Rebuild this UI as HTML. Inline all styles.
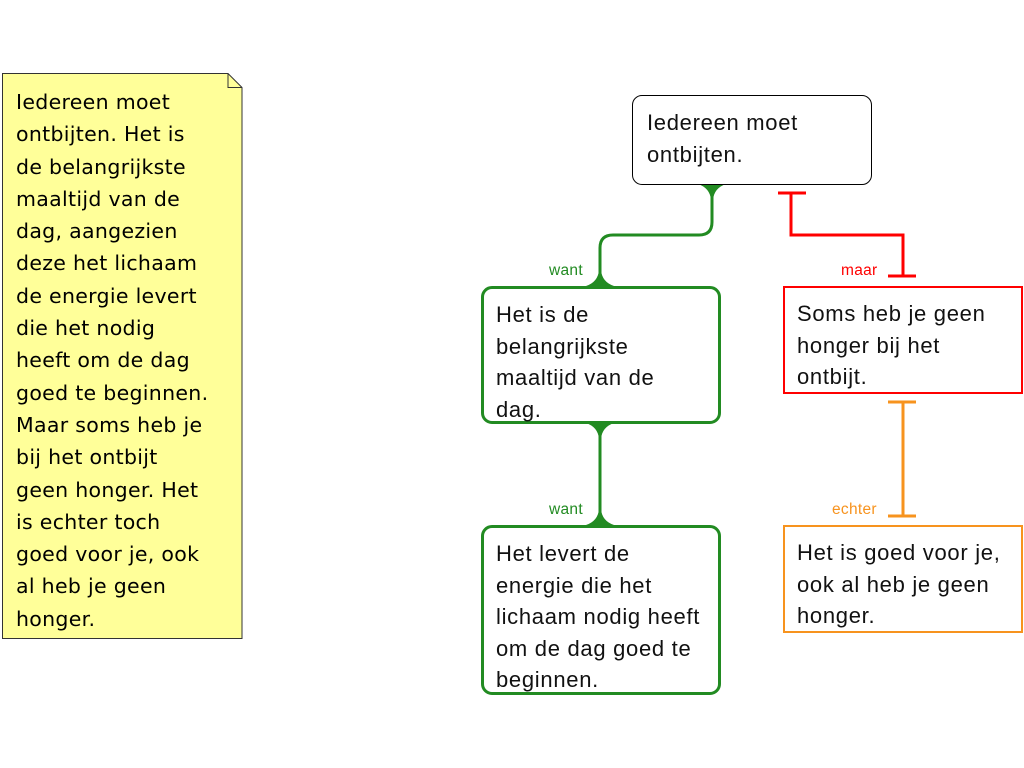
<!DOCTYPE html>
<html><head><meta charset="utf-8"><style>
body{margin:0;width:1024px;height:768px;background:#fff;position:relative;overflow:hidden;font-family:"Liberation Sans",sans-serif}
.nt{position:absolute;left:16px;top:86px;font-family:"DejaVu Sans",sans-serif;font-size:20.5px;line-height:32.3px;color:#000;white-space:pre;letter-spacing:0.3px}
.box{position:absolute;box-sizing:border-box;padding:12px 12px;font-size:22px;line-height:31.5px;color:#111;white-space:pre;letter-spacing:0.7px}
.lbl{position:absolute;font-size:15.5px;letter-spacing:0.3px}
</style></head><body>
<svg width="1024" height="768" style="position:absolute;left:0;top:0">
<path d="M2.5 73.5 H228 L242 87.5 V638.5 H2.5 Z" fill="#ffff99" stroke="#333" stroke-width="1"/>
<path d="M228 73.5 V87.5 H242" fill="none" stroke="#333" stroke-width="1"/>
<g fill="none" stroke="#228b22" stroke-width="3">
<path d="M712 186 V222 Q712 235 699 235 H613 Q600 235 600 248 V286"/>
<path d="M600 423 V525"/>
</g>
<g fill="#228b22">
<path d="M698 184 H726 Q714 188 713 200 H711 Q710 188 698 184 Z"/>
<path d="M586 286 H614 Q602 282 601 270 H599 Q598 282 586 286 Z"/>
<path d="M586 423 H614 Q602 427 601 439 H599 Q598 427 586 423 Z"/>
<path d="M586 525 H614 Q602 521 601 509 H599 Q598 521 586 525 Z"/>
</g>
<g fill="none" stroke="#ff0000" stroke-width="3">
<path d="M778 193 H806 M791 193 V235 H903 V276 M888 276 H916"/>
</g>
<g fill="none" stroke="#f7931e" stroke-width="3">
<path d="M888 402 H916 M903 402 V516 M888 516 H916"/>
</g>
</svg>
<div class="nt">Iedereen moet
ontbijten. Het is
de belangrijkste
maaltijd van de
dag, aangezien
deze het lichaam
de energie levert
die het nodig
heeft om de dag
goed te beginnen.
Maar soms heb je
bij het ontbijt
geen honger. Het
is echter toch
goed voor je, ook
al heb je geen
honger.</div>
<div class="box" style="left:632px;top:95px;width:240px;height:90px;border:1px solid #000;border-radius:10px;padding-left:14px;padding-top:11px">Iedereen moet
ontbijten.</div>
<div class="box" style="left:481px;top:286px;width:240px;height:138px;border:3px solid #228b22;border-radius:11px;padding-top:10px">Het is de
belangrijkste
maaltijd van de
dag.</div>
<div class="box" style="left:481px;top:525px;width:240px;height:170px;border:3px solid #228b22;border-radius:11px;padding-top:10px">Het levert de
energie die het
lichaam nodig heeft
om de dag goed te
beginnen.</div>
<div class="box" style="left:783px;top:286px;width:240px;height:108px;border:2.5px solid #ff0000;padding-top:10px">Soms heb je geen
honger bij het
ontbijt.</div>
<div class="box" style="left:783px;top:525px;width:240px;height:108px;border:2.5px solid #f7931e;padding-top:10px">Het is goed voor je,
ook al heb je geen
honger.</div>
<div class="lbl" style="left:549px;top:262px;color:#228b22">want</div>
<div class="lbl" style="left:549px;top:501px;color:#228b22">want</div>
<div class="lbl" style="left:841px;top:262px;color:#ff0000">maar</div>
<div class="lbl" style="left:832px;top:501px;color:#f7931e">echter</div>
</body></html>
